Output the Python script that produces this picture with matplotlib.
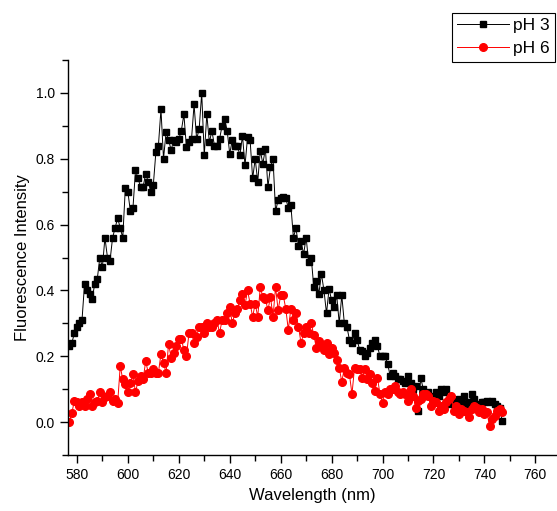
import numpy as np
import matplotlib
matplotlib.use('Agg')
import matplotlib.pyplot as plt
from matplotlib.ticker import MultipleLocator, FormatStrFormatter

plt.rcParams['font.family'] = ['Liberation Sans', 'DejaVu Sans']

wavelength = np.arange(577, 748, 1)

ph3 = [0.23, 0.24, 0.27, 0.29, 0.30, 0.31, 0.42, 0.40, 0.39, 0.375,
       0.42, 0.435, 0.50, 0.47, 0.56, 0.50, 0.49, 0.56, 0.59, 0.62,
       0.59, 0.56, 0.71, 0.70, 0.64, 0.65, 0.765, 0.74, 0.715, 0.715,
       0.755, 0.73, 0.70, 0.72, 0.82, 0.84, 0.95, 0.80, 0.88, 0.857,
       0.826, 0.857, 0.85, 0.86, 0.885, 0.935, 0.835, 0.85, 0.86, 0.965,
       0.86, 0.89, 1.0, 0.81, 0.935, 0.85, 0.885, 0.84, 0.84, 0.86,
       0.90, 0.92, 0.885, 0.815, 0.857, 0.84, 0.84, 0.81, 0.87, 0.78,
       0.865, 0.857, 0.74, 0.80, 0.73, 0.825, 0.785, 0.83, 0.715, 0.775,
       0.80, 0.64, 0.675, 0.68, 0.683, 0.68, 0.65, 0.66, 0.56, 0.59,
       0.535, 0.55, 0.51, 0.56, 0.485, 0.50, 0.41, 0.43, 0.39, 0.45,
       0.40, 0.33, 0.405, 0.37, 0.35, 0.385, 0.30, 0.385, 0.30, 0.29,
       0.25, 0.24, 0.27, 0.25, 0.22, 0.215, 0.20, 0.21, 0.225, 0.24,
       0.25, 0.23, 0.20, 0.20, 0.20, 0.177, 0.14, 0.15, 0.14, 0.13,
       0.13, 0.125, 0.12, 0.14, 0.12, 0.10, 0.11, 0.034, 0.134, 0.10,
       0.08, 0.09, 0.08, 0.07, 0.09, 0.08, 0.10, 0.09, 0.10, 0.055,
       0.06, 0.064, 0.05, 0.07, 0.06, 0.08, 0.055, 0.06, 0.085, 0.07,
       0.055, 0.05, 0.06, 0.06, 0.065, 0.06, 0.064, 0.055, 0.05, 0.043,
       0.003]

ph6 = [0.0, 0.028, 0.064, 0.06, 0.05, 0.06, 0.05, 0.07, 0.085, 0.05,
       0.06, 0.064, 0.09, 0.06, 0.075, 0.08, 0.09, 0.064, 0.07, 0.058,
       0.17, 0.13, 0.115, 0.09, 0.12, 0.145, 0.09, 0.125, 0.14, 0.13,
       0.185, 0.15, 0.15, 0.16, 0.15, 0.15, 0.207, 0.18, 0.15, 0.238,
       0.195, 0.21, 0.23, 0.253, 0.253, 0.22, 0.20, 0.27, 0.27, 0.24,
       0.26, 0.29, 0.29, 0.27, 0.30, 0.29, 0.29, 0.30, 0.31, 0.27,
       0.31, 0.31, 0.33, 0.35, 0.30, 0.33, 0.345, 0.37, 0.39, 0.355,
       0.40, 0.36, 0.32, 0.36, 0.32, 0.41, 0.38, 0.375, 0.34, 0.38,
       0.32, 0.41, 0.34, 0.385, 0.385, 0.345, 0.28, 0.345, 0.31, 0.33,
       0.29, 0.24, 0.27, 0.29, 0.27, 0.30, 0.265, 0.225, 0.245, 0.23,
       0.22, 0.24, 0.207, 0.225, 0.21, 0.19, 0.165, 0.122, 0.165, 0.15,
       0.145, 0.085, 0.165, 0.16, 0.16, 0.135, 0.16, 0.13, 0.145, 0.12,
       0.094, 0.135, 0.085, 0.058, 0.09, 0.085, 0.10, 0.10, 0.11, 0.09,
       0.085, 0.09, 0.085, 0.064, 0.10, 0.08, 0.043, 0.064, 0.07, 0.085,
       0.085, 0.08, 0.05, 0.065, 0.06, 0.034, 0.05, 0.04, 0.06, 0.07,
       0.08, 0.034, 0.05, 0.025, 0.04, 0.035, 0.03, 0.015, 0.04, 0.05,
       0.043, 0.03, 0.04, 0.025, 0.03, -0.012, 0.01, 0.02, 0.034, 0.04,
       0.03]

fig = plt.figure(figsize=(5.57, 5.11), dpi=100)
ax = fig.add_axes([68/557, 1-455/511, 1-68/557, (455-60)/511])

ax.plot(wavelength, ph3, '-s', color='black', mfc='black', mec='black',
        ms=5, lw=0.7, label='pH 3')
ax.plot(wavelength, ph6, '-o', color='red', mfc='red', mec='red',
        ms=5.5, lw=0.7, label='pH 6')

ax.set_xlim(576.5, 768.5)
ax.set_ylim(-0.1, 1.1)
ax.xaxis.set_major_locator(MultipleLocator(20))
ax.xaxis.set_minor_locator(MultipleLocator(10))
ax.yaxis.set_major_locator(MultipleLocator(0.2))
ax.yaxis.set_minor_locator(MultipleLocator(0.1))
ax.yaxis.set_major_formatter(FormatStrFormatter('%.1f'))

for s in ['top', 'right']:
    ax.spines[s].set_visible(False)
for s in ['left', 'bottom']:
    ax.spines[s].set_linewidth(1.0)
ax.tick_params(which='major', direction='out', length=6, width=1, labelsize=10)
ax.tick_params(which='minor', direction='out', length=4, width=1)

ax.set_xlabel('Wavelength (nm)', fontsize=12)
ax.set_ylabel('Fluorescence Intensity', fontsize=12)

leg = ax.legend(loc='upper left', bbox_to_anchor=(452/557, 1-13/511),
                bbox_transform=fig.transFigure, fancybox=False,
                edgecolor='black', framealpha=1, fontsize=12.5,
                handlelength=3.0, handletextpad=0.2, borderpad=0.3,
                labelspacing=0.45, borderaxespad=0)
leg.get_frame().set_linewidth(0.8)

fig.savefig('out.png', dpi=100)
